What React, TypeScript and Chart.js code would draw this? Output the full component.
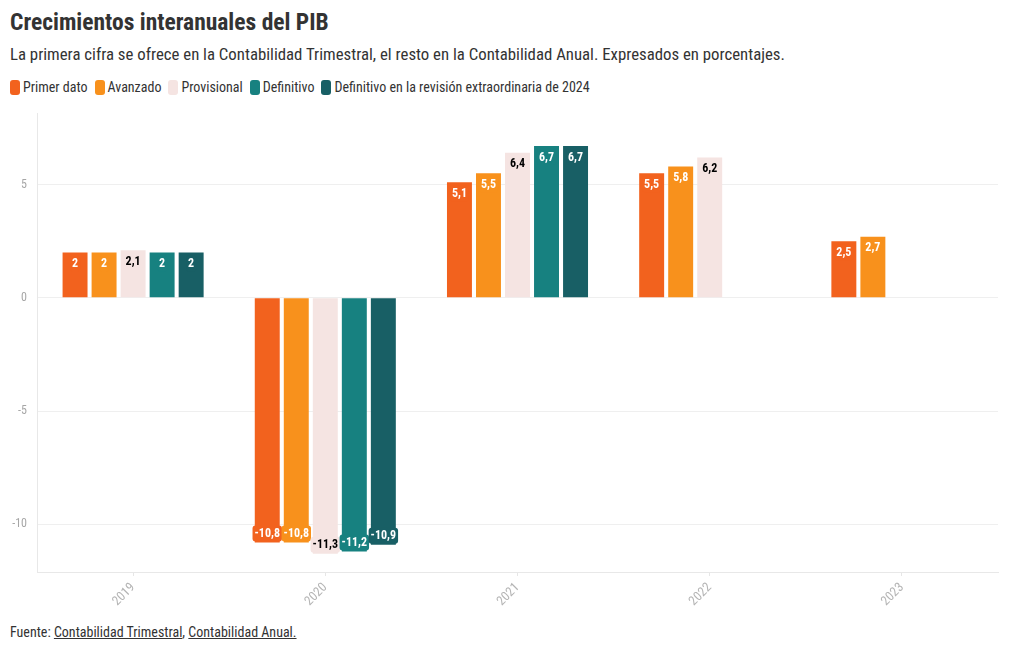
import React, { useEffect, useRef } from "react";
import { Chart, registerables } from "chart.js";

Chart.register(...registerables);

const FONT = "'Roboto Condensed', 'Liberation Sans Narrow', 'Roboto', sans-serif";

const categories = ["2019", "2020", "2021", "2022", "2023"];
const primerDato = [2, -10.8, 5.1, 5.5, 2.5];
const avanzado = [2, -10.8, 5.5, 5.8, 2.7];
const provisional = [2.1, -11.3, 6.4, 6.2, null];
const definitivo = [2, -11.2, 6.7, null, null];
const definitivo2024 = [2, -10.9, 6.7, null, null];
const yTicks = [-10, -5, 0, 5];

const seriesNames = [
  "Primer dato",
  "Avanzado",
  "Provisional",
  "Definitivo",
  "Definitivo en la revisión extraordinaria de 2024",
];
const seriesColors = ["#F2621E", "#F8911C", "#F5E4E2", "#178180", "#185F65"];
const labelColors = ["#ffffff", "#ffffff", "#000000", "#ffffff", "#ffffff"];

const fmt = (v: number) => String(v).replace(".", ",");

const labelPlugin = {
  id: "barLabels",
  afterDatasetsDraw(chart: any) {
    const ctx = chart.ctx;
    ctx.save();
    ctx.font = `bold 12px ${FONT}`;
    ctx.textAlign = "center";
    ctx.textBaseline = "middle";
    chart.data.datasets.forEach((ds: any, di: number) => {
      const meta = chart.getDatasetMeta(di);
      meta.data.forEach((el: any, i: number) => {
        const v = ds.data[i];
        if (v === null || v === undefined) return;
        const text = fmt(v);
        const cy = v >= 0 ? el.y + 11 : el.y - 9;
        const w = ctx.measureText(text).width + 4;
        const h = 16;
        ctx.fillStyle = seriesColors[di];
        ctx.beginPath();
        (ctx as any).roundRect(el.x - w / 2, cy - h / 2, w, h, 3);
        ctx.fill();
        ctx.fillStyle = labelColors[di];
        ctx.fillText(text, el.x, cy + 0.5);
      });
    });
    ctx.restore();
  },
};

export default function App() {
  const ref = useRef<HTMLCanvasElement>(null);
  useEffect(() => {
    const data = [primerDato, avanzado, provisional, definitivo, definitivo2024];
    const chart = new Chart(ref.current!, {
      type: "bar",
      data: {
        labels: categories,
        datasets: data.map((d, i) => ({
          label: seriesNames[i],
          data: d,
          backgroundColor: seriesColors[i],
          borderWidth: 0,
          categoryPercentage: 0.755,
          barPercentage: 0.86,
        })),
      },
      options: {
        animation: false,
        responsive: false,
        maintainAspectRatio: false,
        layout: { padding: { top: 13, right: 12, left: 0, bottom: 0 } },
        plugins: {
          legend: { display: false },
          tooltip: { enabled: false },
        },
        scales: {
          x: {
            grid: { display: true, offset: false, color: "rgba(0,0,0,0)", tickColor: "#e6e6e6", tickLength: 4 },
            border: { color: "#e8e8e8" },
            ticks: {
              color: "#b4b4b4",
              font: { family: FONT, size: 13 },
              maxRotation: 45,
              minRotation: 45,
              padding: 4,
            },
            afterFit: (s: any) => {
              s.height = 39;
            },
          },
          y: {
            min: -12.1,
            max: 8.15,
            afterBuildTicks: (s: any) => {
              s.ticks = yTicks.map((v) => ({ value: v }));
            },
            grid: { color: "#efefef", drawTicks: false },
            border: { color: "#e8e8e8" },
            ticks: {
              color: "#a6a6a6",
              font: { family: FONT, size: 12 },
              padding: 10,
              callback: (v: any) => String(v),
            },
            afterFit: (s: any) => {
              s.width = 29;
            },
          },
        },
      },
      plugins: [labelPlugin],
    });
    return () => chart.destroy();
  }, []);

  return (
    <div style={{ fontFamily: FONT, color: "#333", width: 1004, paddingLeft: 2 }}>
      <div style={{ fontSize: 23.5, fontWeight: "bold", lineHeight: "28px", marginTop: 0, color: "#333" }}>
        Crecimientos interanuales del PIB
      </div>
      <div style={{ fontSize: 16.8, lineHeight: "22px", marginTop: 7, color: "#333" }}>
        La primera cifra se ofrece en la Contabilidad Trimestral, el resto en la Contabilidad Anual. Expresados en porcentajes.
      </div>
      <div style={{ display: "flex", alignItems: "center", fontSize: 14, lineHeight: "18px", marginTop: 13, color: "#333" }}>
        {seriesNames.map((n, i) => (
          <span key={n} style={{ display: "inline-flex", alignItems: "center", marginRight: 7 }}>
            <span
              style={{
                display: "inline-block",
                width: 10,
                height: 15,
                borderRadius: 3,
                background: seriesColors[i],
                marginRight: 3,
              }}
            />
            {n}
          </span>
        ))}
      </div>
      <canvas ref={ref} width={1002} height={515} style={{ display: "block", marginLeft: -2, marginTop: 0 }} />
      <div style={{ fontSize: 14, lineHeight: "18px", marginTop: 12, color: "#333" }}>
        Fuente: <span style={{ textDecoration: "underline" }}>Contabilidad Trimestral</span>,{" "}
        <span style={{ textDecoration: "underline" }}>Contabilidad Anual.</span>
      </div>
    </div>
  );
}
